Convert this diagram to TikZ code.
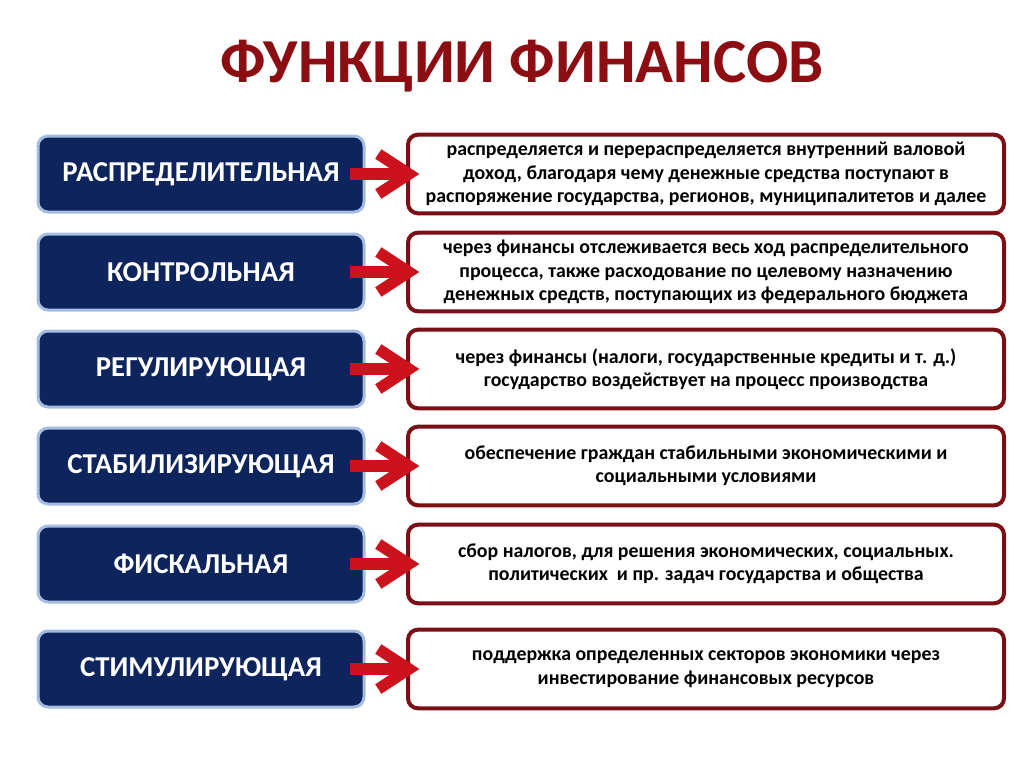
\documentclass[tikz,border=0pt]{standalone}
\usepackage{fontspec}
\setmainfont{Carlito}
\usetikzlibrary{arrows.meta}

\definecolor{fnnavy}{RGB}{14,36,92}
\definecolor{fnedge}{RGB}{165,188,226}
\definecolor{dsedge}{RGB}{122,16,22}
\definecolor{fnred}{RGB}{204,18,28}
\definecolor{ttlred}{RGB}{140,14,18}

\tikzset{
  fnbox/.style={draw=fnedge, line width=2.25pt, fill=fnnavy, rounded corners=7.5pt,
    minimum width=244.5pt, minimum height=57pt, text=white,
    font=\bfseries\fontsize{21.6}{25}\selectfont},
  dsbox/.style={draw=dsedge, line width=3pt, fill=white, rounded corners=7.5pt,
    minimum width=447pt, minimum height=59pt, align=center,
    font=\bfseries\fontsize{14.9}{17.6}\selectfont},
  fnarrow/.style={draw=fnred, line width=9pt,
    -{Straight Barb[length=23pt,width=30pt,line width=8.5pt]},
    shorten <=-12pt, shorten >=-10pt}
}

\begin{document}
\begin{tikzpicture}[x=0.75pt,y=-0.75pt]
  \useasboundingbox (0,0) rectangle (1024,767);

  \node[text=ttlred, font=\bfseries\fontsize{47}{56}\selectfont] (title) at (522,66) {ФУНКЦИИ ФИНАНСОВ};

  \foreach \i/\y/\name/\desc in {
    1/174/{РАСПРЕДЕЛИТЕЛЬНАЯ}/{распределяется и перераспределяется внутренний валовой\\доход, благодаря чему денежные средства поступают в\\распоряжение государства, регионов, муниципалитетов и далее},
    2/272/{КОНТРОЛЬНАЯ}/{через финансы отслеживается весь ход распределительного\\процесса, также расходование по целевому назначению\\денежных средств, поступающих из федерального бюджета},
    3/369/{РЕГУЛИРУЮЩАЯ}/{через финансы (налоги, государственные кредиты и т. д.)\\государство воздействует на процесс производства},
    4/466/{СТАБИЛИЗИРУЮЩАЯ}/{обеспечение граждан стабильными экономическими и\\социальными условиями},
    5/564/{ФИСКАЛЬНАЯ}/{сбор налогов, для решения экономических, социальных.\\политических \ и пр. задач государства и общества},
    6/669/{СТИМУЛИРУЮЩАЯ}/{поддержка определенных секторов экономики через\\инвестирование финансовых ресурсов}} {
    \node[fnbox] (fn\i) at (201,\y) {\name};
    \node[dsbox] (ds\i) at (706,\y) {\desc};
    \draw[fnarrow] (fn\i) -- (ds\i);
  }
\end{tikzpicture}
\end{document}
